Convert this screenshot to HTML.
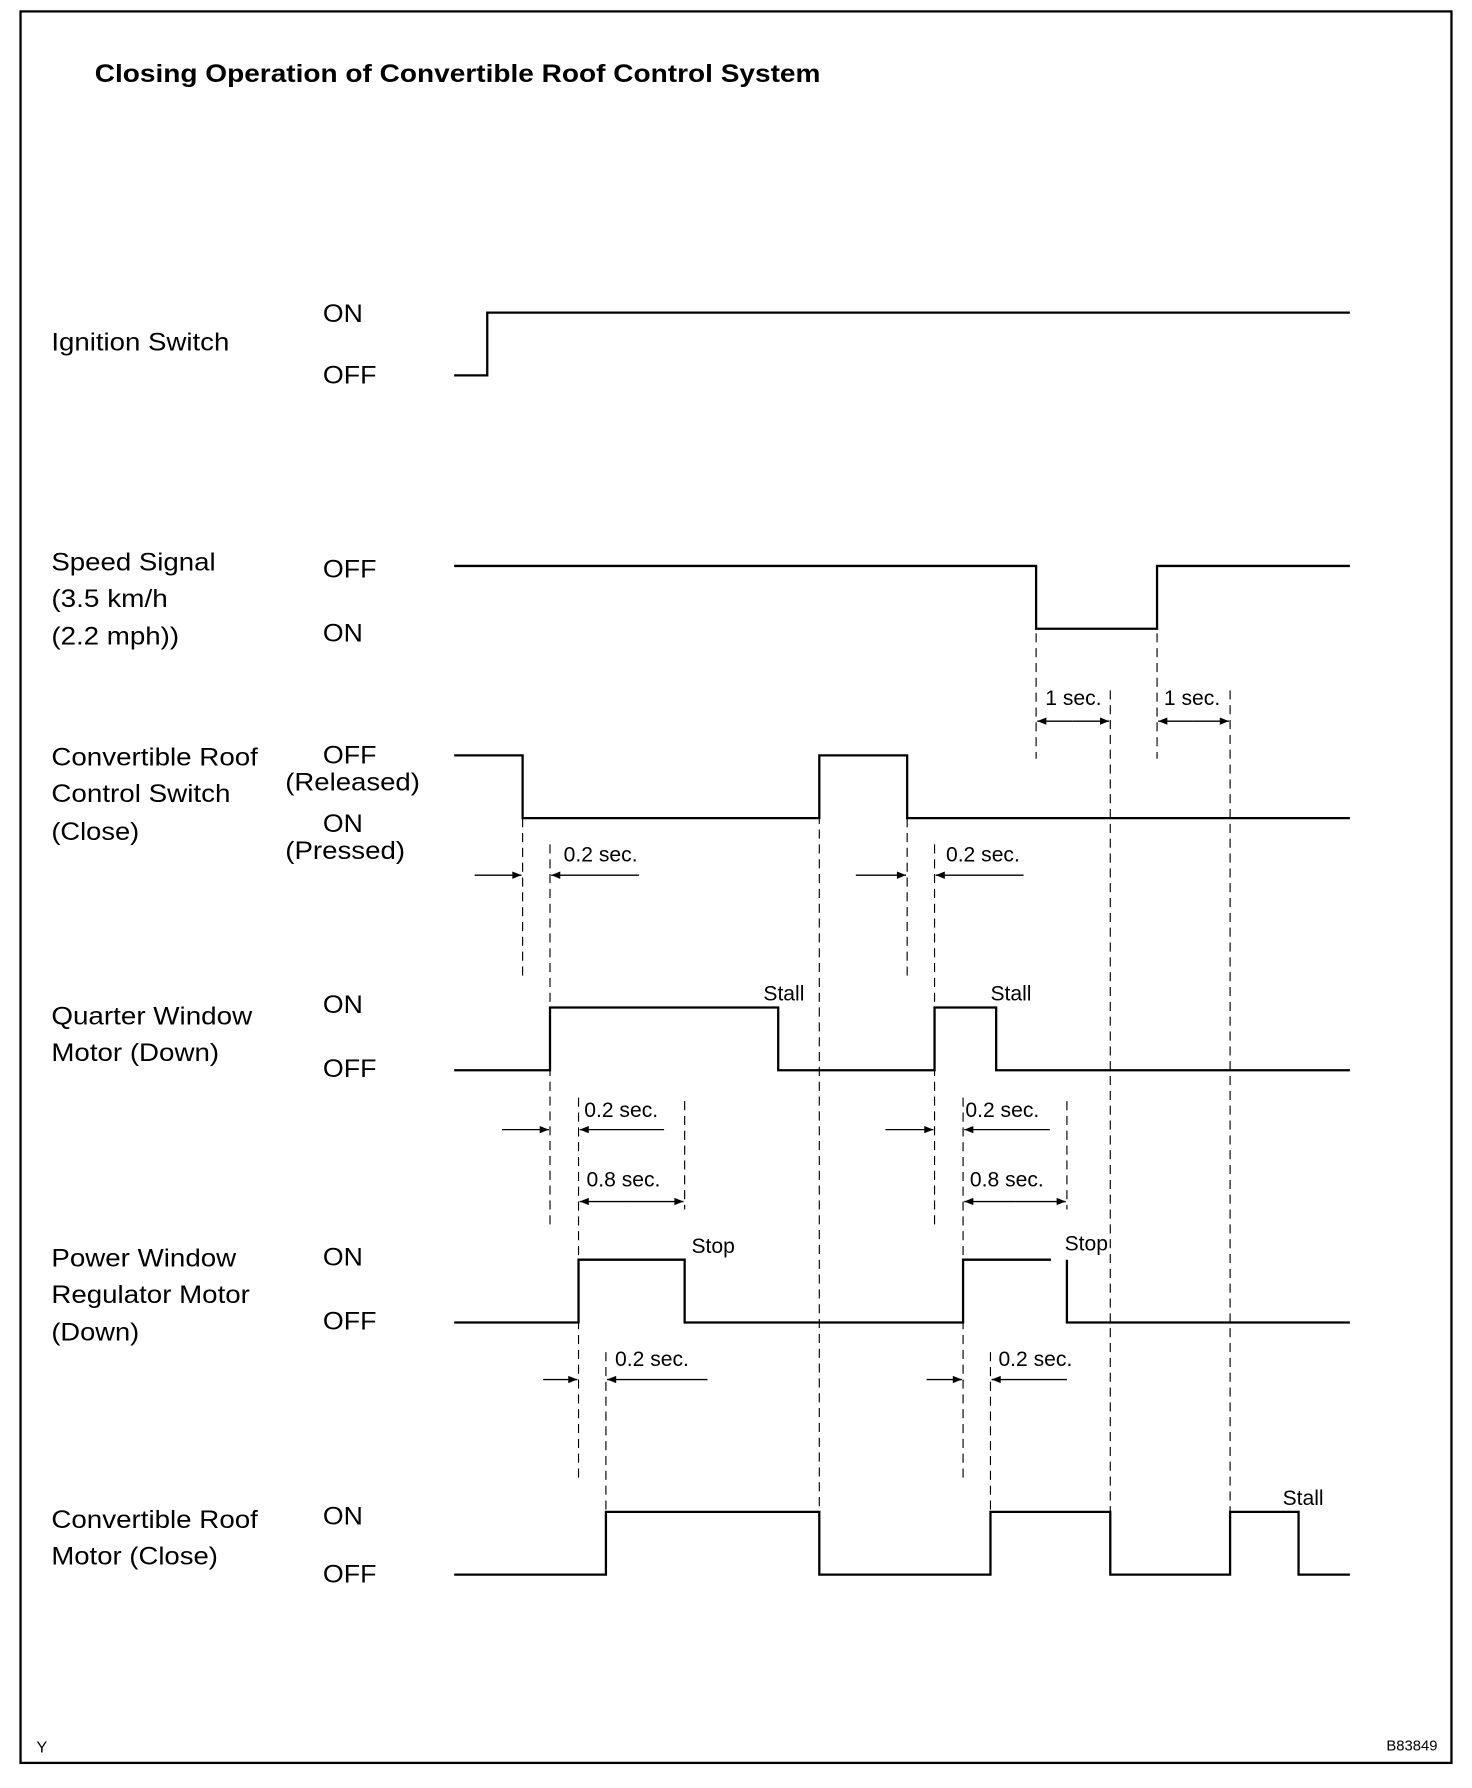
<!DOCTYPE html>
<html><head><meta charset="utf-8"><style>html,body{margin:0;padding:0;background:#fff}svg{display:block}</style></head>
<body>
<svg width="1472" height="1788" viewBox="0 0 1290 1567" preserveAspectRatio="none" xmlns="http://www.w3.org/2000/svg" font-family="Liberation Sans, sans-serif">
<defs>
<marker id="a" viewBox="0 0 10 10" refX="10" refY="5" markerWidth="10" markerHeight="8" markerUnits="userSpaceOnUse" orient="auto"><path d="M0,1 L10,5 L0,9 z" fill="#000"/></marker>
</defs>
<rect x="18" y="10" width="1254" height="1535" fill="none" stroke="#000" stroke-width="2"/>
<text x="83" y="72" font-size="22" font-weight="bold" textLength="636" lengthAdjust="spacingAndGlyphs">Closing Operation of Convertible Roof Control System</text>
<g font-size="22" lengthAdjust="spacingAndGlyphs">
<text x="45" y="307" textLength="156" lengthAdjust="spacingAndGlyphs">Ignition Switch</text>
<text x="283" y="282" textLength="35" lengthAdjust="spacingAndGlyphs">ON</text><text x="283" y="336" textLength="47" lengthAdjust="spacingAndGlyphs">OFF</text>
<text x="45" y="500" textLength="144" lengthAdjust="spacingAndGlyphs">Speed Signal</text><text x="45" y="532" textLength="102" lengthAdjust="spacingAndGlyphs">(3.5 km/h</text><text x="45" y="565" textLength="112" lengthAdjust="spacingAndGlyphs">(2.2 mph))</text>
<text x="283" y="506" textLength="47" lengthAdjust="spacingAndGlyphs">OFF</text><text x="283" y="562" textLength="35" lengthAdjust="spacingAndGlyphs">ON</text>
<text x="45" y="671" textLength="181" lengthAdjust="spacingAndGlyphs">Convertible Roof</text><text x="45" y="703" textLength="157" lengthAdjust="spacingAndGlyphs">Control Switch</text><text x="45" y="736" textLength="77" lengthAdjust="spacingAndGlyphs">(Close)</text>
<text x="283" y="669" textLength="47" lengthAdjust="spacingAndGlyphs">OFF</text><text x="250" y="693" textLength="118" lengthAdjust="spacingAndGlyphs">(Released)</text><text x="283" y="729" textLength="35" lengthAdjust="spacingAndGlyphs">ON</text><text x="250" y="753" textLength="105" lengthAdjust="spacingAndGlyphs">(Pressed)</text>
<text x="45" y="898" textLength="176" lengthAdjust="spacingAndGlyphs">Quarter Window</text><text x="45" y="930" textLength="147" lengthAdjust="spacingAndGlyphs">Motor (Down)</text>
<text x="283" y="888" textLength="35" lengthAdjust="spacingAndGlyphs">ON</text><text x="283" y="944" textLength="47" lengthAdjust="spacingAndGlyphs">OFF</text>
<text x="45" y="1110" textLength="162" lengthAdjust="spacingAndGlyphs">Power Window</text><text x="45" y="1142" textLength="174" lengthAdjust="spacingAndGlyphs">Regulator Motor</text><text x="45" y="1175" textLength="77" lengthAdjust="spacingAndGlyphs">(Down)</text>
<text x="283" y="1109" textLength="35" lengthAdjust="spacingAndGlyphs">ON</text><text x="283" y="1165" textLength="47" lengthAdjust="spacingAndGlyphs">OFF</text>
<text x="45" y="1339" textLength="181" lengthAdjust="spacingAndGlyphs">Convertible Roof</text><text x="45" y="1371" textLength="146" lengthAdjust="spacingAndGlyphs">Motor (Close)</text>
<text x="283" y="1336" textLength="35" lengthAdjust="spacingAndGlyphs">ON</text><text x="283" y="1387" textLength="47" lengthAdjust="spacingAndGlyphs">OFF</text>
</g>
<g font-size="18.5">
<text x="916" y="618">1 sec.</text><text x="1020" y="618">1 sec.</text>
<text x="494" y="755">0.2 sec.</text><text x="829" y="755">0.2 sec.</text>
<text x="669" y="877">Stall</text><text x="868" y="877">Stall</text>
<text x="512" y="979">0.2 sec.</text><text x="846" y="979">0.2 sec.</text>
<text x="514" y="1040">0.8 sec.</text><text x="850" y="1040">0.8 sec.</text>
<text x="606" y="1098">Stop</text><text x="933" y="1096">Stop</text>
<text x="539" y="1197">0.2 sec.</text><text x="875" y="1197">0.2 sec.</text>
<text x="1124" y="1319">Stall</text>
</g>
<text x="32" y="1536" font-size="14">Y</text>
<text x="1215" y="1534" font-size="13">B83849</text>
<g fill="none" stroke="#000" stroke-width="2">
<polyline points="398,329 427,329 427,274 1183,274"/>
<polyline points="398,496 908,496 908,551 1014,551 1014,496 1183,496"/>
<polyline points="398,662 458,662 458,717 718,717 718,662 795,662 795,717 1183,717"/>
<polyline points="398,938 482,938 482,883 682,883 682,938 819,938 819,883 873,883 873,938 1183,938"/>
<polyline points="398,1159 507,1159 507,1104 600,1104 600,1159 844,1159 844,1104 921,1104"/>
<polyline points="935,1104 935,1159 1183,1159"/>
<polyline points="398,1380 531,1380 531,1325 718,1325 718,1380 868,1380 868,1325 973,1325 973,1380 1078,1380 1078,1325 1138,1325 1138,1380 1183,1380"/>
</g>
<g stroke="#000" stroke-width="1" stroke-dasharray="8,5">
<line x1="908" y1="555" x2="908" y2="665"/><line x1="1014" y1="555" x2="1014" y2="665"/>
<line x1="973" y1="605" x2="973" y2="1325"/><line x1="1078" y1="605" x2="1078" y2="1325"/>
<line x1="718" y1="662" x2="718" y2="1325"/>
<line x1="458" y1="717" x2="458" y2="855"/><line x1="482" y1="740" x2="482" y2="1075"/>
<line x1="795" y1="717" x2="795" y2="855"/><line x1="819" y1="740" x2="819" y2="1075"/>
<line x1="507" y1="962" x2="507" y2="1300"/><line x1="600" y1="965" x2="600" y2="1060"/>
<line x1="844" y1="962" x2="844" y2="1300"/><line x1="935" y1="965" x2="935" y2="1060"/>
<line x1="531" y1="1185" x2="531" y2="1325"/><line x1="868" y1="1185" x2="868" y2="1325"/>
</g>
<g stroke="#000" stroke-width="1.2" marker-end="url(#a)">
<line x1="940" y1="632" x2="909" y2="632"/><line x1="940" y1="632" x2="972" y2="632"/>
<line x1="1045" y1="632" x2="1015" y2="632"/><line x1="1045" y1="632" x2="1077" y2="632"/>
<line x1="416" y1="767" x2="457" y2="767"/><line x1="560" y1="767" x2="483" y2="767"/>
<line x1="750" y1="767" x2="794" y2="767"/><line x1="897" y1="767" x2="820" y2="767"/>
<line x1="440" y1="990" x2="481" y2="990"/><line x1="582" y1="990" x2="508" y2="990"/>
<line x1="776" y1="990" x2="818" y2="990"/><line x1="920" y1="990" x2="845" y2="990"/>
<line x1="553" y1="1053" x2="508" y2="1053"/><line x1="553" y1="1053" x2="599" y2="1053"/>
<line x1="890" y1="1053" x2="845" y2="1053"/><line x1="890" y1="1053" x2="934" y2="1053"/>
<line x1="476" y1="1209" x2="506" y2="1209"/><line x1="620" y1="1209" x2="532" y2="1209"/>
<line x1="812" y1="1209" x2="843" y2="1209"/><line x1="935" y1="1209" x2="869" y2="1209"/>
</g>
</svg>
</body></html>
